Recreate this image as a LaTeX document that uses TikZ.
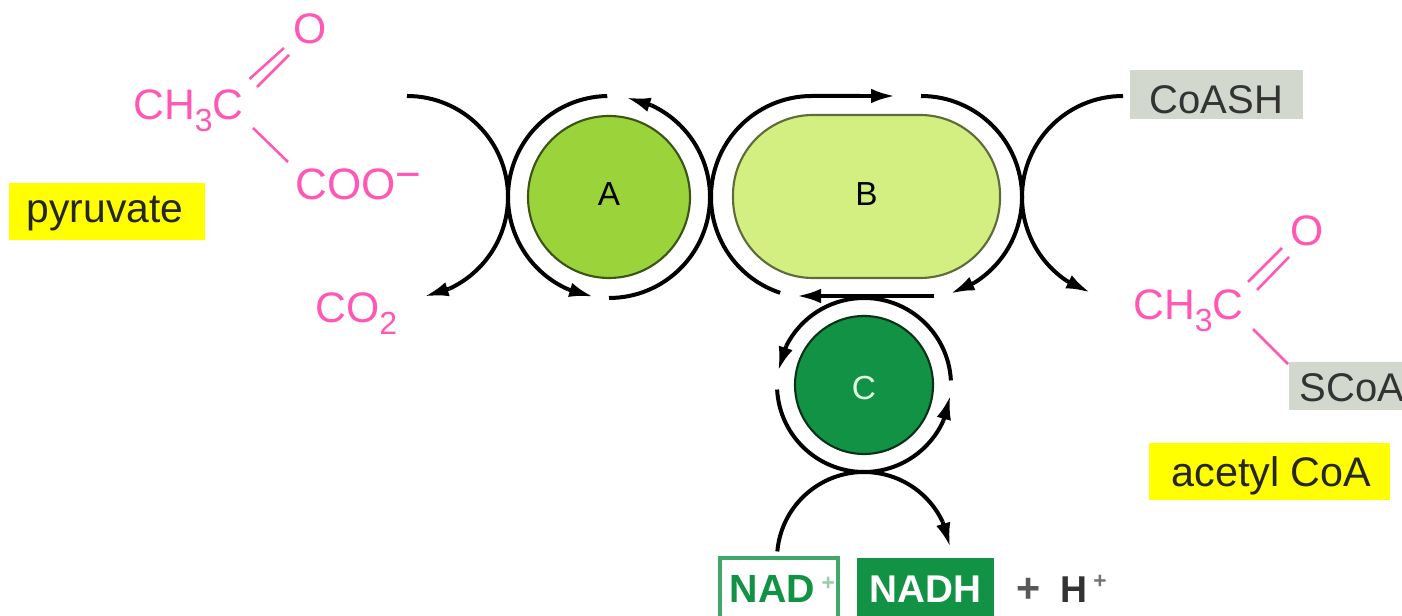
\documentclass[tikz,border=0pt]{standalone}
\usepackage{fontspec}
\setmainfont{Liberation Sans}
\usetikzlibrary{arrows.meta}
\definecolor{pinkchem}{HTML}{FF58B4}
\definecolor{greyboxc}{HTML}{D2D8CE}
\definecolor{darkgreen}{HTML}{129244}
\definecolor{midgreen}{HTML}{9BD33A}
\definecolor{lightgreen}{HTML}{D3EF82}
\definecolor{pureyellow}{HTML}{FFFF00}
\newcommand\pxfont[1]{\fontsize{#1}{#1}\selectfont}
\newcommand\subsc[1]{\raisebox{-9pt}{\pxfont{24}#1}}
\newcommand\enzlabel[2]{\smash{\raisebox{#1}{#2}}}
\tikzset{
  x=.75pt,y=.75pt,
  ringline/.style={line width=3pt,black},
  ringtip/.style={ringline,-{Latex[length=18pt,width=11pt]}},
  bond/.style={pinkchem,line width=1.9pt},
  chem/.style={pinkchem,inner sep=0pt,anchor=base west,font=\pxfont{32}},
  pxsize/.style 2 args={minimum width=#1*.75pt,minimum height=#2*.75pt,inner sep=0pt},
  enzA/.style={circle,draw=black!60!midgreen,line width=1.6pt,fill=midgreen,minimum size=121.5pt,inner sep=0pt,font=\pxfont{25},text=black},
  enzB/.style={draw=black!55!lightgreen,line width=1.6pt,fill=lightgreen,rounded corners=60pt,inner sep=0pt,font=\pxfont{25},text=black},
  enzC/.style={circle,draw=black!65!darkgreen,line width=1.6pt,fill=darkgreen,minimum size=103.5pt,inner sep=0pt,font=\pxfont{25},text=green!10},
  yellowbox/.style={fill=pureyellow,text=black!85,font=\pxfont{30.6},text depth=0pt},
  greybox/.style={fill=greyboxc,text=black!80,font=\pxfont{30},text depth=0pt},
}
% centre, radius, start angle, end angle: an arc that ends in an arrowhead
\newcommand\tiparc[4]{%
  \pgfmathsetmacro\dirsgn{(#4>#3)?1:-1}%
  \pgfmathsetmacro\tipbase{#4-\dirsgn*1500/#2}%
  \draw[ringline] ([shift={(#3:#2)}]#1) arc[start angle=#3,end angle=\tipbase,radius=#2];
  \draw[ringtip] ([shift={(\tipbase:#2)}]#1) -- ([shift={(#4:#2)}]#1);
}
\begin{document}
\begin{tikzpicture}
\useasboundingbox (0,0) rectangle (1402,616);
\clip (0,0) rectangle (1402,616);
\fill[white] (0,0) rectangle (1402,616);
% enzymes
\node[enzA] (A) at (609,419) {\enzlabel{-6.75pt}{A}};
\node[enzB,pxsize={267}{163}] (B) at (866.5,419.5) {\enzlabel{-7pt}{B}};
\node[enzC] (C) at (864,231) {\enzlabel{-11.25pt}{C}};
% ring centres
\coordinate (extL) at (407,419);
\coordinate (bL) at (812,419);
\coordinate (bR) at (921,419);
\coordinate (extR) at (1123,419);
\coordinate (extB) at (864,57);
% ring A
\tiparc{A.center}{101}{91}{261}
\tiparc{A.center}{101}{270}{440}
% external left
\tiparc{extL}{101}{90}{-80}
% ring B
\coordinate (bTopMid) at (860,520);
\coordinate (bTopEnd) at (895,520);
\coordinate (bBotStart) at (934,320);
\coordinate (bBotEnd) at (797,320);
\draw[ringline] ([shift={(251.6:101)}]bL) arc[start angle=251.6,end angle=90,radius=101] -- (bTopMid);
\draw[ringtip] (bTopMid) -- (bTopEnd);
\tiparc{bR}{101}{90}{-73}
\draw[ringtip] (bBotStart) -- (bBotEnd);
% external right
\tiparc{extR}{101}{90}{251}
% ring C
\tiparc{C.center}{87}{3}{170.6}
\tiparc{C.center}{87}{183}{353}
% external bottom
\tiparc{extB}{87}{175}{8}
% pyruvate
\node[chem] (ch3L) at (133,496) {CH\subsc{3}C};
\node[chem] (oL) at (293,572) {O};
\node[chem,font=\pxfont{33}] (coo) at (295,416) {COO\raisebox{8pt}{−}};
\node[chem] (co2) at (315,293) {CO\subsc{2}};
\coordinate (dL1a) at (249.5,537); \coordinate (dL1b) at (284,568);
\coordinate (dL2a) at (257,529); \coordinate (dL2b) at (289,561);
\coordinate (sLa) at (253,488); \coordinate (sLb) at (288,454);
\draw[bond] (dL1a) -- (dL1b);
\draw[bond] (dL2a) -- (dL2b);
\draw[bond] (sLa) -- (sLb);
\node[yellowbox,pxsize={196}{57},text height=17.25pt] (pyr) at (107,404.5) {\hspace{-3pt}pyruvate};
% acetyl CoA
\node[chem] (ch3R) at (1133,296) {CH\subsc{3}C};
\node[chem] (oR) at (1290,370) {O};
\coordinate (dR1a) at (1248,334); \coordinate (dR1b) at (1282,368);
\coordinate (dR2a) at (1257,326); \coordinate (dR2b) at (1289,359);
\coordinate (sRa) at (1253,287); \coordinate (sRb) at (1288,252);
\draw[bond] (dR1a) -- (dR1b);
\draw[bond] (dR2a) -- (dR2b);
\draw[bond] (sRa) -- (sRb);
\node[greybox,pxsize={126}{48},text height=24pt] (scoa) at (1352,230) {SCoA};
\node[greybox,pxsize={173}{49},text height=27.8pt] (coash) at (1216.5,521.5) {CoASH};
\node[yellowbox,font=\pxfont{31},pxsize={241}{57},text height=23.2pt] (acetyl) at (1269.5,144.5) {\hspace{3pt}acetyl CoA};
% NAD
\node[draw=darkgreen!80,line width=3pt,fill=white,pxsize={118}{68},text=darkgreen,font=\bfseries\pxfont{29.5},text height=16.5pt,text depth=0pt] (nad) at (779,24) {\hspace{5pt}NAD\,\raisebox{9pt}{\textcolor{darkgreen!45}{\pxfont{17}+}}};
\node[fill=darkgreen,pxsize={137}{58},text=white,font=\bfseries\pxfont{29},text height=24pt,text depth=0pt] (nadh) at (925.5,29) {NADH};
\node[anchor=base west,inner sep=0pt,text=black!65,font=\bfseries\pxfont{31}] (plus) at (1016,13) {+};
\node[anchor=base west,inner sep=0pt,text=black!80,font=\bfseries\pxfont{28}] (hplus) at (1060,13) {H\,\raisebox{11pt}{\textcolor{black!55}{\pxfont{17}+}}};
\end{tikzpicture}
\end{document}
